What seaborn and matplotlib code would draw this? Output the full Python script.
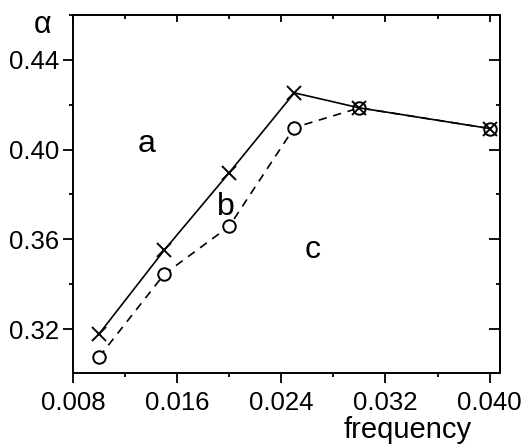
import matplotlib
matplotlib.use("Agg")
import matplotlib.pyplot as plt
import seaborn as sns
import pandas as pd
from matplotlib.ticker import MultipleLocator

frequency = [0.010, 0.015, 0.020, 0.025, 0.030, 0.040]
alpha_cross = [0.3178, 0.3551, 0.3897, 0.4253, 0.4186, 0.4094]
alpha_circle = [0.3075, 0.3444, 0.3658, 0.4098, 0.4186, 0.4094]
xticks = [0.008, 0.016, 0.024, 0.032, 0.040]
yticks = [0.32, 0.36, 0.40, 0.44]

sns.set_style("ticks")
plt.rcParams['font.family'] = ['Liberation Sans', 'DejaVu Sans']

df_cross = pd.DataFrame({"frequency": frequency, "alpha": alpha_cross})
df_circle = pd.DataFrame({"frequency": frequency, "alpha": alpha_circle})

fig = plt.figure(figsize=(5.21, 4.44), dpi=100)
ax = fig.add_axes([73/521, 1-373/444, (500-73)/521, (373-15)/444])

sns.lineplot(data=df_circle, x="frequency", y="alpha", ax=ax, color="black",
             linewidth=1.2, linestyle=(0, (5, 4)), marker="o", markersize=9,
             markerfacecolor="white", markeredgewidth=1.4, markeredgecolor="black")
sns.lineplot(data=df_cross, x="frequency", y="alpha", ax=ax, color="black",
             linewidth=1.2, marker="x", markersize=10, markeredgewidth=1.4,
             markeredgecolor="black")

ax.set_xlim(0.008, 0.0408)
ax.set_ylim(0.3004, 0.460)
ax.set_xticks(xticks)
ax.set_xticklabels([f"{t:.3f}" for t in xticks])
ax.set_yticks(yticks)
ax.set_yticklabels([f"{t:.2f}" for t in yticks])
ax.xaxis.set_minor_locator(MultipleLocator(0.004))
ax.yaxis.set_minor_locator(MultipleLocator(0.02))

for s in ax.spines.values():
    s.set_linewidth(1.4)
    s.set_color("black")
    s.set_visible(True)

ax.tick_params(axis="both", which="major", labelsize=18.5, length=7, width=1.3,
               direction="out", colors="black", labelcolor="black")
ax.tick_params(axis="both", which="minor", length=3, width=1.3, direction="out",
               colors="black")
ax.tick_params(axis="x", which="both", top=False, pad=6)
ax.tick_params(axis="y", which="both", right=False, pad=3)

sec_x = ax.secondary_xaxis("top")
sec_x.set_xticks(xticks)
sec_x.xaxis.set_minor_locator(MultipleLocator(0.004))
sec_x.tick_params(which="major", direction="in", length=5, width=1.3, labeltop=False,
                  colors="black")
sec_x.tick_params(which="minor", direction="in", length=3, width=1.3, colors="black")
sec_x.spines["top"].set_linewidth(1.4)
sec_y = ax.secondary_yaxis("right")
sec_y.set_yticks(yticks)
sec_y.yaxis.set_minor_locator(MultipleLocator(0.02))
sec_y.tick_params(which="major", direction="in", length=8, width=1.3, labelright=False,
                  colors="black")
sec_y.tick_params(which="minor", direction="in", length=3, width=1.3, colors="black")
sec_y.spines["right"].set_linewidth(1.4)

ax.set_xlabel("")
ax.set_ylabel("")
fig.text(408/521, 1-430/444, "frequency", fontsize=21, ha="center", va="center",
         color="black")
fig.text(43/521, 1-25/444, "α", fontsize=22, ha="center", va="center", color="black")

ax.text(0.01365, 0.3989, "a", fontsize=23, ha="center", va="baseline", color="black")
ax.text(0.01975, 0.3708, "b", fontsize=23, ha="center", va="baseline", color="black")
ax.text(0.0264, 0.3517, "c", fontsize=23, ha="center", va="baseline", color="black")

fig.savefig("out.png", dpi=100)
